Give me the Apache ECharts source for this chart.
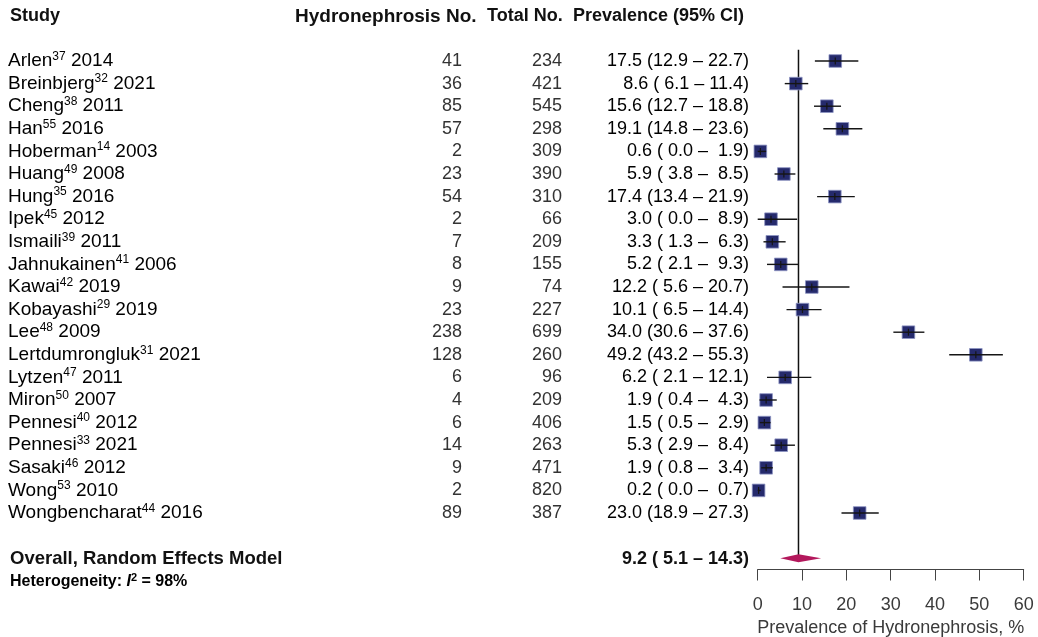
<!DOCTYPE html>
<html>
<head>
<meta charset="utf-8">
<script src="https://cdn.jsdelivr.net/npm/echarts@6/dist/echarts.min.js"></script>
<style>
html,body{margin:0;padding:0;background:#fff;}
#chart{width:1038px;height:637px;}
</style>
</head>
<body>
<div id="chart"></div>
<script>
// ---------- data ----------
const studies = ['Arlen','Breinbjerg','Cheng','Han','Hoberman','Huang','Hung','Ipek','Ismaili','Jahnukainen','Kawai','Kobayashi','Lee','Lertdumrongluk','Lytzen','Miron','Pennesi','Pennesi','Sasaki','Wong','Wongbencharat'];
const refs = [37,32,38,55,14,49,35,45,39,41,42,29,48,31,47,50,40,33,46,53,44];
const years = [2014,2021,2011,2016,2003,2008,2016,2012,2011,2006,2019,2019,2009,2021,2011,2007,2012,2021,2012,2010,2016];
const hydroNo = [41,36,85,57,2,23,54,2,7,8,9,23,238,128,6,4,6,14,9,2,89];
const totalNo = [234,421,545,298,309,390,310,66,209,155,74,227,699,260,96,209,406,263,471,820,387];
const prevalence = [17.5,8.6,15.6,19.1,0.6,5.9,17.4,3.0,3.3,5.2,12.2,10.1,34.0,49.2,6.2,1.9,1.5,5.3,1.9,0.2,23.0];
const ciLow = [12.9,6.1,12.7,14.8,0.0,3.8,13.4,0.0,1.3,2.1,5.6,6.5,30.6,43.2,2.1,0.4,0.5,2.9,0.8,0.0,18.9];
const ciHigh = [22.7,11.4,18.8,23.6,1.9,8.5,21.9,8.9,6.3,9.3,20.7,14.4,37.6,55.3,12.1,4.3,2.9,8.4,3.4,0.7,27.3];
const overall = {est: 9.2, low: 5.1, high: 14.3, label: 'Overall, Random Effects Model', i2: 98};
const headers = ['Study', 'Hydronephrosis No.', 'Total No.', 'Prevalence (95% CI)'];
const xTicks = {min: 0, max: 60, interval: 10};
const xAxisName = 'Prevalence of Hydronephrosis, %';

// ---------- layout ----------
const L = {
  studyX: 8, hydroRight: 462, totalRight: 562, prevRight: 749,
  headerY: 17, hetY: 583,
  hdrHydroX: 295, hdrTotalX: 487, hdrPrevX: 573
};
const FONT = '"Liberation Sans", Arial, Helvetica, sans-serif';
const nRows = studies.length + 2; // studies + blank + overall
const overallRow = studies.length + 1;
const rowCats = Array.from({length: nRows}, (_, i) => String(i));

function fmt1(v) { return v.toFixed(1); }
function pad(v) { const s = fmt1(v); return v < 10 ? ' ' + s : s; }
function ciText(p, l, h) { return fmt1(p) + ' (' + pad(l) + ' \u2013 ' + pad(h) + ')'; }

const studyData = studies.map((s, i) => [i, prevalence[i], ciLow[i], ciHigh[i]]);
const tableData = studies.map((s, i) => [i]);

const chart = echarts.init(document.getElementById('chart'), null, {renderer: 'canvas'});

const richStudy = {
  n: {fontSize: 19, fontFamily: FONT, color: '#333', lineHeight: 21},
  s: {fontSize: 12, fontFamily: FONT, color: '#333', verticalAlign: 'top', lineHeight: 21}
};

const option = {
  animation: false,
  backgroundColor: '#fff',
  grid: {left: 757.7, right: 14.3, top: 49.7, bottom: 67.5, containLabel: false, outerBoundsMode: 'none'},
  xAxis: {
    type: 'value', min: xTicks.min, max: xTicks.max, interval: xTicks.interval,
    splitLine: {show: false},
    axisLine: {show: true, lineStyle: {color: '#444', width: 1}},
    axisTick: {show: true, length: 11, lineStyle: {color: '#444', width: 1}},
    axisLabel: {fontSize: 18, fontFamily: FONT, color: '#3a3a3a', margin: 27},
    name: xAxisName, nameLocation: 'middle', nameGap: 50,
    nameTextStyle: {fontSize: 18, fontFamily: FONT, color: '#3a3a3a'}
  },
  yAxis: {
    type: 'category', data: rowCats, inverse: true, show: false,
    axisLine: {show: false}, axisTick: {show: false}, axisLabel: {show: false}, splitLine: {show: false}
  },
  graphic: [
    {type: 'text', left: L.studyX + 2, top: L.headerY - 10, style: {text: headers[0], font: 'bold 18px ' + FONT, fill: '#111'}},
    {type: 'text', left: L.hdrHydroX, top: L.headerY - 10, style: {text: headers[1], font: 'bold 19px ' + FONT, fill: '#111'}},
    {type: 'text', left: L.hdrTotalX, top: L.headerY - 10, style: {text: headers[2], font: 'bold 18px ' + FONT, fill: '#111'}},
    {type: 'text', left: L.hdrPrevX, top: L.headerY - 10, style: {text: headers[3], font: 'bold 18px ' + FONT, fill: '#111'}},
    {type: 'text', left: L.studyX + 2, top: L.hetY - 11, style: {
      text: '{h|Heterogeneity: }{i|I}{s|2}{h| = ' + overall.i2 + '%}',
      rich: {
        h: {fontSize: 16, fontWeight: 'bold', fontFamily: FONT, color: '#111', lineHeight: 20},
        i: {fontSize: 16, fontWeight: 'bold', fontStyle: 'italic', fontFamily: FONT, color: '#111', lineHeight: 20},
        s: {fontSize: 11, fontWeight: 'bold', fontFamily: FONT, color: '#111', verticalAlign: 'top', lineHeight: 20}
      }
    }}
  ],
  series: [
    // reference line at overall estimate
    {
      type: 'custom', clip: false, z: 1,
      data: [[overall.est]],
      renderItem: function (params, api) {
        const band = api.size([0, 1])[1];
        const top = api.coord([api.value(0), 0]);
        const bot = api.coord([api.value(0), overallRow]);
        return {type: 'line', shape: {x1: top[0], y1: top[1] - band / 2, x2: bot[0], y2: bot[1]},
          style: {stroke: '#111', lineWidth: 1.5}};
      }
    },
    // studies: square + CI line + tick
    {
      type: 'custom', clip: false, z: 3,
      data: studyData,
      renderItem: function (params, api) {
        const row = api.value(0);
        const c = api.coord([api.value(1), row]);
        const a = api.coord([api.value(2), row]);
        const b = api.coord([api.value(3), row]);
        const h = 6.3;
        return {type: 'group', children: [
          {type: 'rect', shape: {x: c[0] - h, y: c[1] - h, width: 2 * h, height: 2 * h},
            style: {fill: '#252A6C', stroke: 'rgba(140,148,195,0.8)', lineWidth: 1}},
          {type: 'line', shape: {x1: a[0], y1: a[1], x2: b[0], y2: b[1]}, style: {stroke: '#151515', lineWidth: 1.4}},
          {type: 'line', shape: {x1: c[0], y1: c[1] - 3.5, x2: c[0], y2: c[1] + 3.5}, style: {stroke: '#151515', lineWidth: 1.2}}
        ]};
      }
    },
    // overall diamond
    {
      type: 'custom', clip: false, z: 4,
      data: [[overallRow, overall.est, overall.low, overall.high]],
      renderItem: function (params, api) {
        const row = api.value(0);
        const c = api.coord([api.value(1), row]);
        const a = api.coord([api.value(2), row]);
        const b = api.coord([api.value(3), row]);
        return {type: 'polygon', shape: {points: [[a[0], a[1]], [c[0], c[1] - 4], [b[0], b[1]], [c[0], c[1] + 4]]},
          style: {fill: '#B3185C'}};
      }
    },
    // table text for studies
    {
      type: 'custom', clip: false, z: 5, silent: true,
      data: tableData,
      renderItem: function (params, api) {
        const i = api.value(0);
        const y = api.coord([0, i])[1];
        return {type: 'group', children: [
          {type: 'text', x: L.studyX, y: y, style: {
            text: '{n|' + studies[i] + '}{s|' + refs[i] + '}{n| ' + years[i] + '}',
            rich: richStudy, textAlign: 'left', textVerticalAlign: 'middle'}},
          {type: 'text', x: L.hydroRight, y: y, style: {text: String(hydroNo[i]), font: '18px ' + FONT, fill: '#333', textAlign: 'right', textVerticalAlign: 'middle'}},
          {type: 'text', x: L.totalRight, y: y, style: {text: String(totalNo[i]), font: '18px ' + FONT, fill: '#333', textAlign: 'right', textVerticalAlign: 'middle'}},
          {type: 'text', x: L.prevRight, y: y, style: {text: ciText(prevalence[i], ciLow[i], ciHigh[i]), font: '18px ' + FONT, fill: '#000', textAlign: 'right', textVerticalAlign: 'middle'}}
        ]};
      }
    },
    // overall text row
    {
      type: 'custom', clip: false, z: 5, silent: true,
      data: [[overallRow]],
      renderItem: function (params, api) {
        const y = api.coord([0, api.value(0)])[1] + 1;
        return {type: 'group', children: [
          {type: 'text', x: L.studyX + 2, y: y, style: {text: overall.label, font: 'bold 18.5px ' + FONT, fill: '#111', textAlign: 'left', textVerticalAlign: 'middle'}},
          {type: 'text', x: L.prevRight, y: y, style: {text: ciText(overall.est, overall.low, overall.high), font: 'bold 18px ' + FONT, fill: '#111', textAlign: 'right', textVerticalAlign: 'middle'}}
        ]};
      }
    }
  ]
};
chart.setOption(option);
</script>
</body>
</html>
